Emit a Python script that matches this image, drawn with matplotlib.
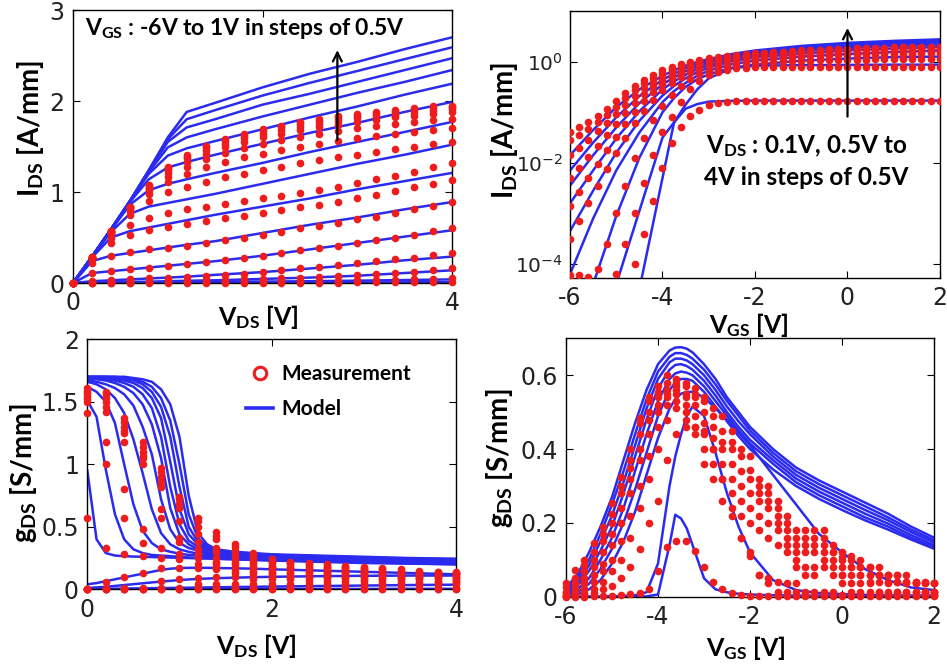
import matplotlib
matplotlib.use('Agg')
import matplotlib.pyplot as plt
from matplotlib.lines import Line2D

plt.rcParams['font.family'] = ['DejaVu Sans']
plt.rcParams['mathtext.fontset'] = 'custom'
plt.rcParams['mathtext.rm'] = 'Lato:bold'
plt.rcParams['mathtext.it'] = 'Lato:bold:italic'
plt.rcParams['mathtext.bf'] = 'Lato:bold'
plt.rcParams['mathtext.sf'] = 'DejaVu Sans'

BLUE = '#2b2bef'
RED = '#ee1c1c'

# ---------------- Panel A : I_DS vs V_DS (VGS = 1 ... -6 V) ----------------
vds_model_a = [0, 0.2, 0.4, 0.6, 0.8, 1.0, 1.2, 1.5, 2.0, 2.5, 3.0, 3.5, 4.0]
ids_model_a = [
    [0, 0.29, 0.59, 0.90, 1.24, 1.60, 1.88, 1.98, 2.15, 2.30, 2.43, 2.57, 2.70],
    [0, 0.29, 0.59, 0.90, 1.24, 1.58, 1.80, 1.90, 2.06, 2.20, 2.33, 2.46, 2.59],
    [0, 0.29, 0.59, 0.90, 1.23, 1.55, 1.71, 1.80, 1.96, 2.08, 2.21, 2.34, 2.47],
    [0, 0.29, 0.59, 0.90, 1.22, 1.49, 1.60, 1.69, 1.83, 1.96, 2.09, 2.21, 2.34],
    [0, 0.29, 0.59, 0.90, 1.20, 1.40, 1.48, 1.56, 1.69, 1.82, 1.94, 2.07, 2.19],
    [0, 0.29, 0.59, 0.89, 1.14, 1.27, 1.33, 1.41, 1.53, 1.65, 1.76, 1.88, 1.99],
    [0, 0.29, 0.58, 0.86, 1.02, 1.09, 1.14, 1.21, 1.32, 1.44, 1.55, 1.66, 1.77],
    [0, 0.29, 0.56, 0.76, 0.84, 0.88, 0.92, 0.98, 1.09, 1.20, 1.31, 1.41, 1.52],
    [0, 0.28, 0.50, 0.57, 0.61, 0.65, 0.69, 0.75, 0.84, 0.93, 1.03, 1.12, 1.21],
    [0, 0.24, 0.30, 0.33, 0.36, 0.39, 0.42, 0.46, 0.55, 0.64, 0.72, 0.81, 0.89],
    [0, 0.11, 0.13, 0.15, 0.17, 0.19, 0.21, 0.24, 0.30, 0.37, 0.44, 0.51, 0.58],
    [0, 0.02, 0.03, 0.04, 0.05, 0.06, 0.07, 0.09, 0.12, 0.16, 0.20, 0.25, 0.29],
    [0, 0.005, 0.01, 0.012, 0.015, 0.02, 0.025, 0.03, 0.045, 0.06, 0.08, 0.11, 0.14],
    [0, 0.0, 0.003, 0.005, 0.006, 0.008, 0.01, 0.012, 0.016, 0.02, 0.026, 0.033, 0.04],
    [0, 0.0, 0.0, 0.001, 0.001, 0.002, 0.002, 0.003, 0.004, 0.005, 0.006, 0.008, 0.01],
]
vds_meas_a = [0.0, 0.2, 0.4, 0.6, 0.8, 1.0, 1.2, 1.4, 1.6, 1.8, 2.0,
              2.2, 2.4, 2.6, 2.8, 3.0, 3.2, 3.4, 3.6, 3.8, 4.0]
ids_meas_a = [
    [0, .29, .57, .84, 1.08, 1.27, 1.41, 1.51, 1.58, 1.64, 1.69, 1.73, 1.77, 1.80, 1.83, 1.86, 1.88, 1.90, 1.92, 1.94, 1.95],
    [0, .29, .57, .84, 1.07, 1.26, 1.39, 1.49, 1.56, 1.62, 1.67, 1.71, 1.75, 1.78, 1.81, 1.84, 1.86, 1.88, 1.90, 1.92, 1.93],
    [0, .29, .57, .83, 1.06, 1.24, 1.37, 1.46, 1.53, 1.59, 1.64, 1.68, 1.72, 1.75, 1.78, 1.81, 1.83, 1.85, 1.87, 1.89, 1.91],
    [0, .29, .56, .82, 1.04, 1.21, 1.33, 1.42, 1.49, 1.55, 1.60, 1.64, 1.68, 1.71, 1.74, 1.77, 1.79, 1.82, 1.84, 1.86, 1.88],
    [0, .28, .56, .81, 1.02, 1.17, 1.28, 1.36, 1.43, 1.48, 1.53, 1.57, 1.61, 1.64, 1.67, 1.70, 1.73, 1.75, 1.77, 1.79, 1.80],
    [0, .28, .55, .79, .98, 1.11, 1.20, 1.27, 1.33, 1.38, 1.42, 1.46, 1.50, 1.53, 1.56, 1.59, 1.62, 1.64, 1.66, 1.68, 1.70],
    [0, .28, .54, .75, .90, 1.00, 1.06, 1.11, 1.16, 1.20, 1.24, 1.28, 1.32, 1.35, 1.38, 1.41, 1.44, 1.47, 1.50, 1.53, 1.55],
    [0, .27, .50, .64, .72, .77, .81, .84, .87, .90, .93, .96, .99, 1.02, 1.06, 1.10, 1.14, 1.18, 1.22, 1.27, 1.32],
    [0, .26, .44, .53, .58, .62, .65, .68, .71, .74, .77, .80, .83, .86, .89, .93, .97, 1.01, 1.05, 1.09, 1.13],
    [0, .22, .30, .34, .37, .39, .41, .44, .47, .50, .53, .56, .60, .63, .66, .70, .73, .77, .81, .85, .89],
    [0, .11, .13, .15, .17, .19, .21, .23, .25, .27, .30, .33, .36, .38, .41, .44, .47, .50, .53, .57, .60],
    [0, .02, .03, .04, .05, .06, .07, .08, .09, .10, .12, .14, .16, .18, .20, .22, .24, .26, .28, .31, .33],
    [0, .005, .01, .012, .015, .02, .025, .03, .035, .04, .045, .05, .06, .07, .08, .09, .10, .11, .12, .14, .16],
    [0, 0, .003, .005, .006, .008, .01, .011, .012, .014, .016, .018, .02, .023, .026, .03, .033, .037, .041, .045, .05],
    [0, 0, 0, 0, .001, .001, .002, .002, .002, .003, .003, .004, .004, .005, .005, .006, .007, .008, .008, .009, .01],
]

# ---------------- Panel B : log10(I_DS) vs V_GS (VDS = 4 ... 0.1 V) ----------------
vgs_model_b = [-6, -5.5, -5, -4.5, -4, -3.75, -3.5, -3.25, -3, -2.5, -2, -1, 0, 1, 2]
log_ids_model_b = [
    [-1.85, -1.35, -0.90, -0.55, -0.28, -0.17, -0.08, -0.01, 0.05, 0.15, 0.22, 0.31, 0.37, 0.41, 0.44],
    [-2.15, -1.60, -1.10, -0.68, -0.36, -0.24, -0.13, -0.05, 0.02, 0.12, 0.19, 0.28, 0.34, 0.38, 0.41],
    [-2.45, -1.85, -1.30, -0.82, -0.45, -0.31, -0.19, -0.10, -0.02, 0.09, 0.16, 0.25, 0.31, 0.35, 0.38],
    [-2.80, -2.15, -1.52, -0.98, -0.55, -0.39, -0.26, -0.15, -0.07, 0.05, 0.12, 0.21, 0.27, 0.31, 0.34],
    [-3.35, -2.55, -1.80, -1.17, -0.67, -0.48, -0.33, -0.21, -0.12, 0.01, 0.08, 0.16, 0.22, 0.26, 0.29],
    [-4.20, -3.10, -2.15, -1.40, -0.80, -0.58, -0.42, -0.28, -0.18, -0.05, 0.02, 0.10, 0.15, 0.19, 0.22],
    [-5.60, -4.40, -3.05, -1.90, -1.00, -0.72, -0.50, -0.35, -0.25, -0.12, -0.06, 0.02, 0.06, 0.09, 0.10],
    [-7.00, -6.00, -4.40, -2.95, -1.50, -1.20, -0.85, -0.55, -0.33, -0.13, -0.08, -0.07, -0.065, -0.06, -0.06],
    [-7.00, -7.00, -6.50, -4.50, -2.30, -1.20, -0.93, -0.84, -0.79, -0.775, -0.77, -0.77, -0.77, -0.77, -0.77],
]
vgs_meas = [-6.0, -5.8, -5.6, -5.4, -5.2, -5.0, -4.8, -4.6, -4.4, -4.2, -4.0,
            -3.8, -3.6, -3.4, -3.2, -3.0, -2.8, -2.6, -2.4, -2.2, -2.0,
            -1.8, -1.6, -1.4, -1.2, -1.0, -0.8, -0.6, -0.4, -0.2, 0.0,
            0.2, 0.4, 0.6, 0.8, 1.0, 1.2, 1.4, 1.6, 1.8, 2.0]
log_ids_meas_b = [
    [-1.40, -1.30, -1.20, -1.08, -0.93, -0.78, -0.62, -0.48, -0.36, -0.26, -0.17, -0.10, -0.04, 0.00, 0.04, 0.07, 0.10, 0.12, 0.14, 0.16, 0.17,
     0.18, 0.19, 0.20, 0.21, 0.22, 0.23, 0.23, 0.24, 0.25, 0.25, 0.26, 0.26, 0.27, 0.27, 0.28, 0.28, 0.28, 0.29, 0.29, 0.29],
    [-1.55, -1.45, -1.33, -1.20, -1.05, -0.89, -0.72, -0.57, -0.43, -0.32, -0.22, -0.14, -0.08, -0.03, 0.01, 0.04, 0.07, 0.10, 0.12, 0.14, 0.15,
     0.16, 0.17, 0.18, 0.19, 0.20, 0.21, 0.21, 0.22, 0.23, 0.23, 0.24, 0.24, 0.25, 0.25, 0.26, 0.26, 0.26, 0.27, 0.27, 0.27],
    [-1.85, -1.70, -1.55, -1.38, -1.21, -1.03, -0.85, -0.68, -0.53, -0.40, -0.29, -0.20, -0.13, -0.07, -0.02, 0.02, 0.05, 0.08, 0.10, 0.12, 0.13,
     0.14, 0.15, 0.16, 0.17, 0.18, 0.19, 0.19, 0.20, 0.21, 0.21, 0.22, 0.22, 0.23, 0.23, 0.24, 0.24, 0.24, 0.25, 0.25, 0.25],
    [-2.30, -2.10, -1.88, -1.66, -1.44, -1.23, -1.02, -0.82, -0.64, -0.49, -0.36, -0.26, -0.18, -0.11, -0.05, -0.01, 0.03, 0.06, 0.08, 0.10, 0.11,
     0.12, 0.13, 0.14, 0.15, 0.16, 0.17, 0.17, 0.18, 0.19, 0.19, 0.20, 0.20, 0.21, 0.21, 0.22, 0.22, 0.22, 0.23, 0.23, 0.23],
    [-2.85, -2.58, -2.30, -2.02, -1.75, -1.48, -1.23, -0.99, -0.78, -0.60, -0.45, -0.33, -0.23, -0.15, -0.09, -0.04, 0.00, 0.03, 0.05, 0.07, 0.08,
     0.09, 0.10, 0.11, 0.12, 0.13, 0.14, 0.14, 0.15, 0.16, 0.16, 0.17, 0.17, 0.18, 0.18, 0.19, 0.19, 0.19, 0.20, 0.20, 0.20],
    [-3.50, -3.15, -2.80, -2.46, -2.12, -1.80, -1.50, -1.22, -0.97, -0.75, -0.57, -0.42, -0.30, -0.21, -0.14, -0.08, -0.04, -0.01, 0.02, 0.04, 0.05,
     0.06, 0.07, 0.08, 0.09, 0.10, 0.11, 0.11, 0.12, 0.13, 0.13, 0.14, 0.14, 0.15, 0.15, 0.16, 0.16, 0.16, 0.17, 0.17, 0.17],
    [-4.22, -4.22, -4.25, -4.10, -3.60, -3.00, -2.45, -1.90, -1.50, -1.15, -0.88, -0.65, -0.48, -0.35, -0.25, -0.18, -0.12, -0.08, -0.05, -0.03, -0.02,
     -0.01, 0.00, 0.01, 0.01, 0.02, 0.02, 0.03, 0.03, 0.03, 0.04, 0.04, 0.04, 0.05, 0.05, 0.05, 0.05, 0.06, 0.06, 0.06, 0.06],
    [-4.30, -4.40, -4.50, -4.60, -4.60, -4.20, -3.60, -3.00, -2.40, -1.85, -1.40, -1.10, -0.80, -0.55, -0.38, -0.27, -0.20, -0.16, -0.13, -0.12, -0.11,
     -0.10, -0.10, -0.10, -0.10, -0.10, -0.10, -0.10, -0.10, -0.10, -0.10, -0.10, -0.10, -0.10, -0.10, -0.10, -0.10, -0.10, -0.10, -0.10, -0.10],
    [-4.60, -4.60, -4.60, -4.60, -4.60, -4.60, -4.60, -4.00, -3.40, -2.76, -2.10, -1.60, -1.29, -1.07, -0.95, -0.86, -0.81, -0.79, -0.78, -0.77, -0.77,
     -0.77, -0.77, -0.77, -0.77, -0.77, -0.77, -0.77, -0.77, -0.77, -0.77, -0.77, -0.77, -0.77, -0.77, -0.77, -0.77, -0.77, -0.77, -0.77, -0.77],
]

# ---------------- Panel C : g_DS vs V_DS (VGS = 1 ... -6 V) ----------------
vds_model_c = [0, 0.1, 0.2, 0.3, 0.4, 0.5, 0.6, 0.7, 0.8, 0.9, 1.0, 1.1,
               1.2, 1.3, 1.4, 1.6, 1.8, 2.0, 2.5, 3.0, 3.5, 4.0]
gds_model_c = [
    [1.70, 1.70, 1.70, 1.70, 1.70, 1.69, 1.68, 1.66, 1.60, 1.48, 1.22, 0.75, 0.45, 0.36, 0.32, 0.30, 0.29, 0.28, 0.27, 0.26, 0.25, 0.245],
    [1.70, 1.70, 1.70, 1.70, 1.69, 1.68, 1.66, 1.62, 1.53, 1.35, 1.00, 0.60, 0.41, 0.34, 0.31, 0.295, 0.285, 0.275, 0.265, 0.255, 0.245, 0.24],
    [1.70, 1.70, 1.70, 1.69, 1.68, 1.67, 1.64, 1.58, 1.46, 1.22, 0.82, 0.50, 0.38, 0.33, 0.31, 0.29, 0.28, 0.27, 0.26, 0.25, 0.24, 0.235],
    [1.69, 1.69, 1.69, 1.68, 1.67, 1.65, 1.61, 1.53, 1.37, 1.02, 0.64, 0.44, 0.36, 0.32, 0.30, 0.285, 0.275, 0.265, 0.255, 0.245, 0.235, 0.23],
    [1.69, 1.69, 1.68, 1.67, 1.65, 1.62, 1.56, 1.45, 1.22, 0.82, 0.52, 0.39, 0.34, 0.31, 0.295, 0.28, 0.27, 0.26, 0.25, 0.24, 0.23, 0.225],
    [1.68, 1.68, 1.67, 1.65, 1.62, 1.57, 1.48, 1.32, 1.05, 0.65, 0.44, 0.36, 0.32, 0.30, 0.29, 0.275, 0.265, 0.255, 0.245, 0.235, 0.225, 0.22],
    [1.67, 1.66, 1.64, 1.61, 1.56, 1.47, 1.30, 1.08, 0.72, 0.48, 0.37, 0.33, 0.31, 0.29, 0.28, 0.27, 0.26, 0.25, 0.24, 0.23, 0.22, 0.215],
    [1.66, 1.64, 1.60, 1.53, 1.41, 1.20, 0.93, 0.64, 0.45, 0.36, 0.32, 0.30, 0.285, 0.275, 0.27, 0.26, 0.255, 0.245, 0.235, 0.225, 0.215, 0.21],
    [1.62, 1.58, 1.50, 1.33, 1.00, 0.68, 0.47, 0.37, 0.32, 0.30, 0.285, 0.275, 0.27, 0.265, 0.26, 0.255, 0.25, 0.24, 0.23, 0.22, 0.21, 0.205],
    [1.51, 1.38, 0.96, 0.60, 0.40, 0.32, 0.29, 0.275, 0.27, 0.265, 0.26, 0.255, 0.25, 0.25, 0.245, 0.24, 0.235, 0.23, 0.22, 0.21, 0.205, 0.20],
    [0.95, 0.40, 0.29, 0.27, 0.265, 0.262, 0.26, 0.258, 0.256, 0.254, 0.252, 0.25, 0.248, 0.246, 0.244, 0.24, 0.236, 0.232, 0.224, 0.216, 0.208, 0.20],
    [0.04, 0.05, 0.065, 0.08, 0.095, 0.11, 0.125, 0.14, 0.155, 0.165, 0.17, 0.172, 0.172, 0.172, 0.17, 0.168, 0.165, 0.16, 0.15, 0.14, 0.13, 0.12],
    [0.01, 0.015, 0.02, 0.027, 0.034, 0.041, 0.048, 0.055, 0.062, 0.068, 0.074, 0.079, 0.083, 0.086, 0.089, 0.093, 0.097, 0.10, 0.105, 0.108, 0.11, 0.11],
    [0.002, 0.003, 0.004, 0.005, 0.006, 0.007, 0.008, 0.009, 0.01, 0.011, 0.012, 0.013, 0.014, 0.015, 0.016, 0.018, 0.02, 0.022, 0.026, 0.03, 0.034, 0.037],
    [0.001, 0.001, 0.001, 0.001, 0.001, 0.001, 0.001, 0.001, 0.001, 0.001, 0.001, 0.002, 0.002, 0.002, 0.002, 0.002, 0.002, 0.003, 0.003, 0.003, 0.004, 0.004],
]
vds_meas_c = vds_meas_a
gds_meas_cols = [
    [1.61, 1.59, 1.57, 1.55, 1.52, 1.50, 1.41, 0.57, 0, 0, 0, 0, 0, 0, 0],
    [1.58, 1.56, 1.53, 1.50, 1.46, 1.42, 1.18, 1.00, 0.33, 0.06, 0, 0, 0, 0, 0],
    [1.37, 1.34, 1.30, 1.27, 1.25, 1.18, 0.80, 0.57, 0.28, 0.10, 0.01, 0, 0, 0, 0],
    [1.18, 1.14, 1.10, 1.07, 1.05, 1.00, 0.48, 0.37, 0.27, 0.13, 0.01, 0, 0, 0, 0],
    [0.97, 0.94, 0.90, 0.86, 0.82, 0.64, 0.57, 0.33, 0.25, 0.17, 0.07, 0.01, 0, 0, 0],
    [0.74, 0.72, 0.68, 0.65, 0.55, 0.41, 0.38, 0.28, 0.24, 0.17, 0.08, 0.01, 0, 0, 0],
    [0.57, 0.55, 0.50, 0.44, 0.38, 0.32, 0.28, 0.25, 0.20, 0.17, 0.09, 0.04, 0.01, 0, 0],
    [0.46, 0.43, 0.40, 0.33, 0.30, 0.25, 0.22, 0.20, 0.18, 0.16, 0.10, 0.04, 0.01, 0, 0],
    [0.36, 0.34, 0.31, 0.28, 0.25, 0.22, 0.20, 0.18, 0.15, 0.13, 0.10, 0.04, 0.01, 0, 0],
    [0.29, 0.27, 0.25, 0.23, 0.21, 0.19, 0.17, 0.15, 0.13, 0.11, 0.08, 0.04, 0.01, 0, 0],
    [0.24, 0.22, 0.21, 0.19, 0.18, 0.17, 0.15, 0.13, 0.12, 0.10, 0.08, 0.04, 0.01, 0, 0],
    [0.22, 0.21, 0.20, 0.18, 0.17, 0.16, 0.14, 0.13, 0.11, 0.10, 0.08, 0.04, 0.01, 0, 0],
    [0.21, 0.20, 0.19, 0.17, 0.16, 0.15, 0.14, 0.12, 0.11, 0.09, 0.07, 0.04, 0.01, 0, 0],
    [0.20, 0.19, 0.18, 0.17, 0.16, 0.14, 0.13, 0.12, 0.10, 0.09, 0.07, 0.04, 0.01, 0, 0],
    [0.19, 0.18, 0.17, 0.16, 0.15, 0.14, 0.13, 0.11, 0.10, 0.09, 0.07, 0.04, 0.01, 0, 0],
    [0.18, 0.17, 0.16, 0.15, 0.14, 0.13, 0.12, 0.11, 0.10, 0.08, 0.07, 0.04, 0.01, 0, 0],
    [0.17, 0.16, 0.15, 0.14, 0.13, 0.13, 0.12, 0.11, 0.09, 0.08, 0.06, 0.04, 0.01, 0, 0],
    [0.16, 0.15, 0.14, 0.14, 0.13, 0.12, 0.11, 0.10, 0.09, 0.08, 0.06, 0.04, 0.01, 0, 0],
    [0.15, 0.14, 0.14, 0.13, 0.12, 0.12, 0.11, 0.10, 0.09, 0.08, 0.06, 0.04, 0.01, 0, 0],
    [0.14, 0.14, 0.13, 0.13, 0.12, 0.11, 0.11, 0.10, 0.09, 0.07, 0.06, 0.04, 0.01, 0, 0],
    [0.14, 0.13, 0.13, 0.12, 0.12, 0.11, 0.10, 0.09, 0.08, 0.07, 0.06, 0.04, 0.01, 0, 0],
]

# ---------------- Panel D : g_m vs V_GS (VDS = 4 ... 0.1 V) ----------------
vgs_model_d = [-6, -5.75, -5.5, -5.25, -5, -4.75, -4.5, -4.25, -4, -3.75, -3.625,
               -3.5, -3.375, -3.25, -3, -2.75, -2.5, -2.25, -2, -1.5, -1, -0.5,
               0, 0.5, 1, 1.5, 2]
gm_model_d = [
    [.025, .06, .12, .19, .27, .37, .47, .56, .63, .667, .675, .676, .672, .662, .63, .59, .54, .50, .46, .40, .35, .315, .285, .255, .225, .19, .16],
    [.02, .05, .10, .17, .25, .34, .44, .535, .61, .65, .66, .66, .655, .645, .615, .575, .53, .49, .45, .39, .34, .305, .275, .245, .215, .182, .153],
    [.015, .04, .085, .15, .22, .31, .41, .51, .59, .635, .645, .645, .64, .63, .60, .56, .515, .475, .44, .38, .33, .295, .265, .235, .207, .175, .147],
    [.01, .03, .07, .125, .19, .28, .38, .48, .565, .615, .628, .63, .625, .615, .585, .545, .50, .46, .425, .37, .32, .285, .255, .225, .198, .167, .14],
    [.008, .02, .05, .10, .16, .24, .34, .44, .53, .59, .605, .61, .607, .60, .57, .53, .49, .45, .415, .36, .31, .275, .245, .215, .19, .16, .135],
    [.005, .012, .035, .075, .13, .20, .29, .39, .49, .56, .58, .59, .59, .585, .555, .515, .475, .435, .40, .345, .30, .265, .235, .207, .182, .155, .13],
    [.002, .006, .02, .045, .09, .15, .23, .33, .43, .51, .535, .55, .555, .555, .54, .51, .48, .445, .41, .33, .25, .17, .12, .075, .045, .025, .018],
    [0, 0, 0, 0, .001, .002, .004, .012, .09, .30, .38, .44, .49, .515, .49, .39, .28, .19, .12, .045, .018, .01, .007, .005, .004, .003, .003],
    [0, 0, 0, 0, 0, 0, 0, .001, .006, .14, .222, .212, .185, .14, .05, .02, .012, .008, .006, .004, .003, .003, .002, .002, .002, .002, .002],
]
gm_meas_d = [
    [.036, .072, .10, .145, .19, .253, .325, .40, .483, .54, .57, .60, .59, .58, .565, .54, .51, .49, .45, .40, .38,
     .32, .30, .26, .22, .18, .18, .18, .18, .14, .12, .11, .10, .08, .08, .06, .06, .06, .04, .04, .036],
    [.025, .05, .085, .12, .17, .225, .30, .37, .47, .53, .555, .58, .58, .57, .55, .53, .49, .45, .42, .38, .343,
     .30, .28, .24, .20, .16, .16, .16, .16, .12, .108, .10, .08, .08, .06, .06, .06, .04, .04, .036, .036],
    [.014, .036, .07, .10, .15, .20, .28, .35, .44, .50, .54, .56, .57, .55, .54, .50, .46, .42, .40, .34, .32,
     .28, .26, .22, .18, .14, .14, .14, .14, .12, .10, .08, .08, .06, .06, .06, .04, .04, .036, .036, .036],
    [.01, .025, .05, .08, .12, .17, .24, .32, .40, .48, .52, .55, .56, .54, .52, .47, .43, .40, .36, .30, .28,
     .26, .24, .20, .16, .12, .12, .12, .12, .10, .08, .08, .06, .06, .06, .04, .04, .036, .036, .014, .014],
    [.005, .015, .036, .06, .09, .14, .20, .28, .37, .44, .50, .54, .55, .52, .49, .44, .40, .36, .32, .26, .24,
     .22, .20, .18, .14, .10, .08, .08, .10, .08, .06, .06, .06, .04, .04, .036, .014, .014, .014, .014, .014],
    [.003, .008, .02, .04, .07, .10, .15, .22, .30, .38, .46, .52, .53, .50, .46, .40, .36, .32, .28, .22, .20,
     .18, .16, .14, .12, .08, .06, .06, .08, .06, .06, .036, .036, .036, .014, .014, .014, .014, .014, .014, .014],
    [.002, .005, .01, .02, .04, .07, .10, .16, .24, .32, .40, .48, .51, .48, .44, .36, .32, .26, .22, .16, .12,
     .06, .05, .04, .036, .036, .014, .014, .014, .014, .036, .014, .014, .014, .014, .005, .005, .005, .005, .005, .005],
    [.001, .002, .005, .01, .02, .03, .05, .08, .13, .20, .26, .37, .44, .46, .46, .45, .40, .32, .24, .16, .11,
     .06, .036, .014, .014, .014, .005, .005, .005, .005, .005, .005, .005, .005, .005, .005, .005, .005, .005, .005, .005],
    [0, 0, 0, .001, .002, .003, .005, .008, .01, .02, .07, .135, .15, .15, .125, .08, .04, .02, .01, .005, .003,
     .002, .002, .001, .001, .001, .001, .001, .001, .001, .001, .001, .001, .001, .001, .001, .001, .001, .001, .001, .001],
]

# ---------------- figure ----------------
fig = plt.figure(figsize=(9.47, 6.68), dpi=100)
axA = fig.add_axes([0.0771, 0.5763, 0.4002, 0.4087])
axB = fig.add_axes([0.6019, 0.5838, 0.3907, 0.3997])
axC = fig.add_axes([0.0922, 0.1178, 0.3893, 0.3743])
axD = fig.add_axes([0.5977, 0.1067, 0.3886, 0.3868])

LW = 1.8
MS = 5.5
xlab_kw = dict(fontfamily='Lato', fontweight='bold', fontsize=18)
ylab_kw = dict(fontfamily='Lato', fontweight='bold', fontsize=20)


def style(ax):
    ax.tick_params(direction='in', top=True, right=True, length=5, width=0.8,
                   labelsize=17, labelcolor='#222222', pad=6)
    for s in ax.spines.values():
        s.set_linewidth(1.0)


def set_labels(ax, xl, yl, xpos, ypos):
    ax.set_xlabel(xl, **xlab_kw)
    ax.set_ylabel(yl, **ylab_kw)
    ax.xaxis.label.set_va('center')
    ax.yaxis.label.set_va('center')
    ax.xaxis.set_label_coords(*xpos)
    ax.yaxis.set_label_coords(*ypos)


# Panel A
for row in ids_model_a:
    axA.plot(vds_model_a, row, color=BLUE, lw=LW, zorder=2)
for row in ids_meas_a:
    axA.plot(vds_meas_a, row, 'o', color=RED, ms=MS, mec='none', zorder=3, clip_on=False)
axA.set_xlim(0, 4)
axA.set_ylim(0, 3)
axA.set_xticks([0, 2, 4])
axA.set_xticklabels(['0', '', '4'])
axA.set_yticks([0, 1, 2, 3])
style(axA)
set_labels(axA, r'$\mathrm{V_{DS}}$ [V]', r'$\mathrm{I_{DS}}$ [A/mm]', (0.49, -0.125), (-0.113, 0.568))
axA.text(0.13, 2.80, r'$\mathrm{V_{GS}}$ : -6V to 1V in steps of 0.5V', ha='left', va='center',
         fontfamily='Lato', fontweight='bold', fontsize=16.5)
axA.annotate('', xy=(2.79, 2.59), xytext=(2.79, 1.54),
             arrowprops=dict(arrowstyle='->', color='black', lw=1.6, mutation_scale=16))

# Panel B
for row in log_ids_model_b:
    axB.plot(vgs_model_b, [10 ** v for v in row], color=BLUE, lw=LW, zorder=2)
for row in log_ids_meas_b:
    axB.plot(vgs_meas, [10 ** v for v in row], 'o', color=RED, ms=MS, mec='none', zorder=3)
axB.set_yscale('log')
axB.set_xlim(-6, 2)
axB.set_ylim(5.3e-5, 10)
axB.set_xticks([-6, -4, -2, 0, 2])
axB.set_xticklabels(['-6', '-4', '-2', '0', '2'])
axB.set_yticks([1e-4, 1e-2, 1e0])
axB.set_yticklabels([r'$\mathsf{10^{-4}}$', r'$\mathsf{10^{-2}}$', r'$\mathsf{10^{0}}$'])
axB.yaxis.set_minor_locator(matplotlib.ticker.NullLocator())
style(axB)
axB.tick_params(axis='y', labelsize=14.5, pad=5)
set_labels(axB, r'$\mathrm{V_{GS}}$ [V]', r'$\mathrm{I_{DS}}$ [A/mm]', (0.484, -0.175), (-0.178, 0.554))
axB.text(-0.89, 10 ** -1.67, r'$\mathrm{V_{DS}}$ : 0.1V, 0.5V to', ha='center', va='center',
         fontfamily='Lato', fontweight='bold', fontsize=17.5)
axB.text(-0.89, 10 ** -2.28, '4V in steps of 0.5V', ha='center', va='center',
         fontfamily='Lato', fontweight='bold', fontsize=17.5)
axB.annotate('', xy=(0, 10 ** 0.72), xytext=(0, 10 ** -1.14),
             arrowprops=dict(arrowstyle='->', color='black', lw=1.6, mutation_scale=16))

# Panel C
for row in gds_model_c:
    axC.plot(vds_model_c, row, color=BLUE, lw=LW, zorder=2)
for x, col in zip(vds_meas_c, gds_meas_cols):
    axC.plot([x] * len(col), col, 'o', color=RED, ms=MS, mec='none', zorder=3, clip_on=False)
axC.set_xlim(0, 4)
axC.set_ylim(0, 2)
axC.set_xticks([0, 2, 4])
axC.set_yticks([0, 0.5, 1, 1.5, 2])
axC.set_yticklabels(['0', '0.5', '1', '1.5', '2'])
style(axC)
set_labels(axC, r'$\mathrm{V_{DS}}$ [V]', r'$\mathrm{g_{DS}}$ [S/mm]', (0.457, -0.227), (-0.172, 0.465))
handles = [Line2D([], [], marker='o', ls='none', mfc='none', mec=RED, mew=2.2, ms=9),
           Line2D([], [], color=BLUE, lw=2.6)]
axC.legend(handles, ['Measurement', 'Model'], loc='upper left', bbox_to_anchor=(0.38, 0.975),
           frameon=False, handlelength=1.3, handletextpad=0.4, labelspacing=0.7,
           prop=dict(family='Lato', weight='bold', size=15))

# Panel D
for row in gm_model_d:
    axD.plot(vgs_model_d, row, color=BLUE, lw=LW, zorder=2)
for row in gm_meas_d:
    axD.plot(vgs_meas, row, 'o', color=RED, ms=MS, mec='none', zorder=3, clip_on=False)
axD.set_xlim(-6, 2)
axD.set_ylim(0, 0.7)
axD.set_xticks([-6, -4, -2, 0, 2])
axD.set_xticklabels(['-6', '-4', '-2', '0', '2'])
axD.set_yticks([0, 0.2, 0.4, 0.6])
axD.set_yticklabels(['0', '0.2', '0.4', '0.6'])
style(axD)
set_labels(axD, r'$\mathrm{V_{GS}}$ [V]', r'$\mathrm{g_{DS}}$ [S/mm]', (0.49, -0.199), (-0.182, 0.537))

fig.savefig('out.png', dpi=100)
